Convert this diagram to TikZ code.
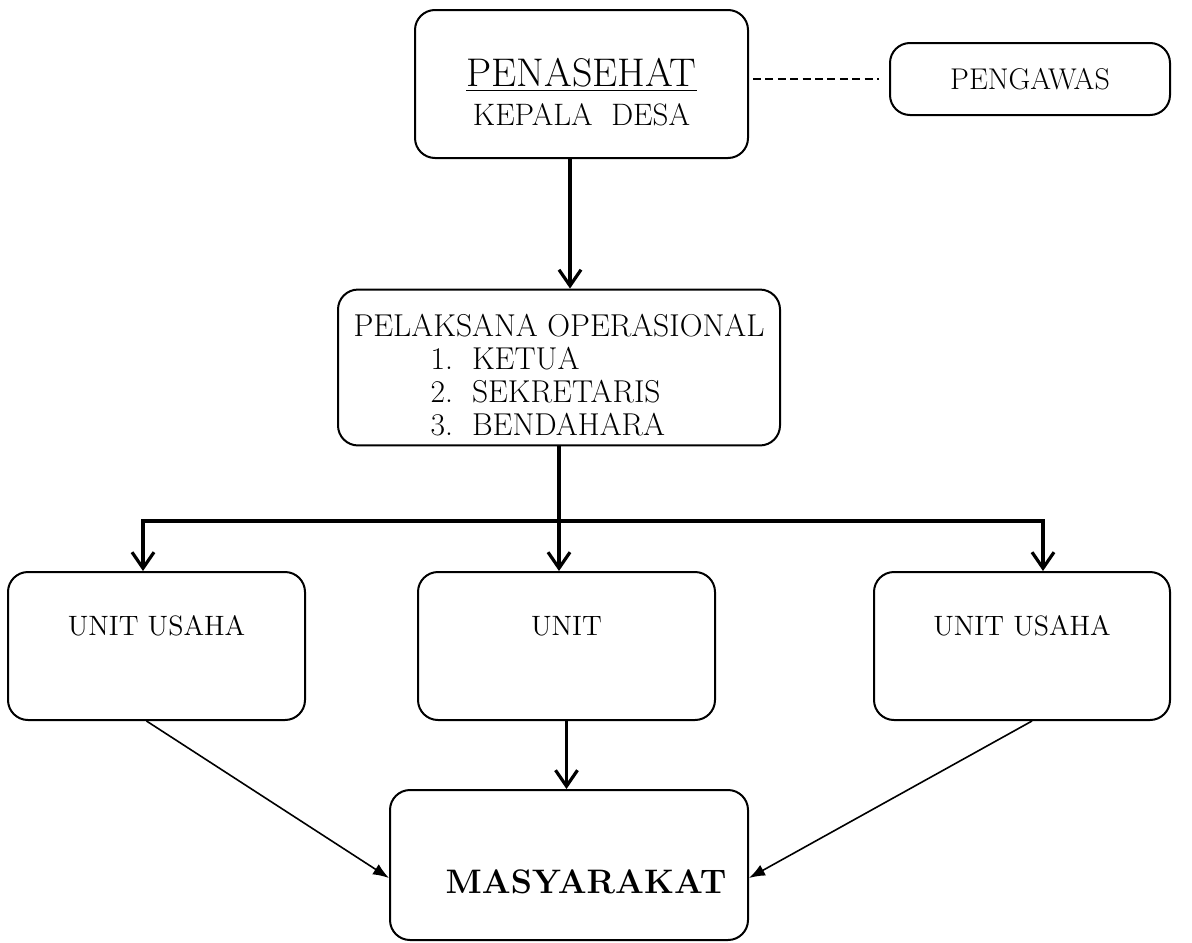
\documentclass[tikz,border=0pt]{standalone}
\usetikzlibrary{arrows.meta}
\begin{document}
\begin{tikzpicture}[x=0.5pt,y=-0.5pt,
  box/.style={draw,line width=1pt,rounded corners=10pt,inner sep=0pt,align=center},
  thickarrow/.style={line width=1.6pt,-{Straight Barb[length=8pt,width=11pt,line width=1.6pt]}},
  thinarrow/.style={line width=0.8pt,-{Latex[length=8pt,width=6pt]}},
  dashline/.style={line width=0.7pt,dash pattern=on 4pt off 2.2pt}]
\useasboundingbox (0,0) rectangle (1192,942);
\node[box,minimum width=166.5pt,minimum height=74pt] (pen) at (581.5,84)
  {\rule{0pt}{22pt}{\fontsize{20}{22}\selectfont\underline{PENASEHAT}}\\[5pt]
   {\fontsize{15.5}{17}\selectfont KEPALA\ \ DESA}};
\node[box,minimum width=140pt,minimum height=36pt,font=\fontsize{15}{17}\selectfont] (pge) at (1030,79) {PENGAWAS};
\node[box,minimum width=221pt,minimum height=77.5pt] (pel) at (559,367.5)
  {\fontsize{15.8}{16.5}\selectfont
   \begin{tabular}{@{}l@{}}\rule{0pt}{23.5pt}PELAKSANA OPERASIONAL\\
   \hspace{38.5pt}1.\ \ KETUA\\
   \hspace{38.5pt}2.\ \ SEKRETARIS\\
   \hspace{38.5pt}3.\ \ BENDAHARA\end{tabular}};
\node[box,minimum width=148.5pt,minimum height=74pt,font=\fontsize{14}{17}\selectfont] (u1) at (156.5,646) {UNIT USAHA\\[-2pt]\strut};
\node[box,minimum width=148.5pt,minimum height=74pt,font=\fontsize{14}{17}\selectfont] (u2) at (566.5,646) {UNIT\\[-2pt]\strut};
\node[box,minimum width=148pt,minimum height=74pt,font=\fontsize{14}{17}\selectfont] (u3) at (1022,646) {UNIT USAHA\\[-2pt]\strut};
\node[box,minimum width=179pt,minimum height=75pt,font=\fontsize{17}{19}\selectfont\bfseries] (mas) at (569,865) {\strut\\[-4pt]\hspace*{17pt}MASYARAKAT};
\coordinate (ax) at (570,0);
\coordinate (jl) at (143,521);
\coordinate (jr) at (1043,521);
\draw[dashline] ([xshift=2pt]pen.east |- pge.west) -- ([xshift=-5pt]pge.west);
\draw[thickarrow] (ax |- pen.south) -- (ax |- pel.north);
\draw[line width=1.6pt] (pel.south) -- (pel.south |- jl);
\draw[line width=1.6pt,line cap=rect] (jl) -- (jr);
\draw[thickarrow] (jl) -- (jl |- u1.north);
\draw[thickarrow] (pel.south |- jl) -- (pel.south |- u2.north);
\draw[thickarrow] (jr) -- (jr |- u3.north);
\draw[thickarrow] (u2.south) -- (u2.south |- mas.north);
\draw[thinarrow] ([xshift=-5pt]u1.south) -- ([yshift=-6.5pt]mas.west);
\draw[thinarrow] ([xshift=5pt]u3.south) -- ([yshift=-6.5pt]mas.east);
\end{tikzpicture}
\end{document}
